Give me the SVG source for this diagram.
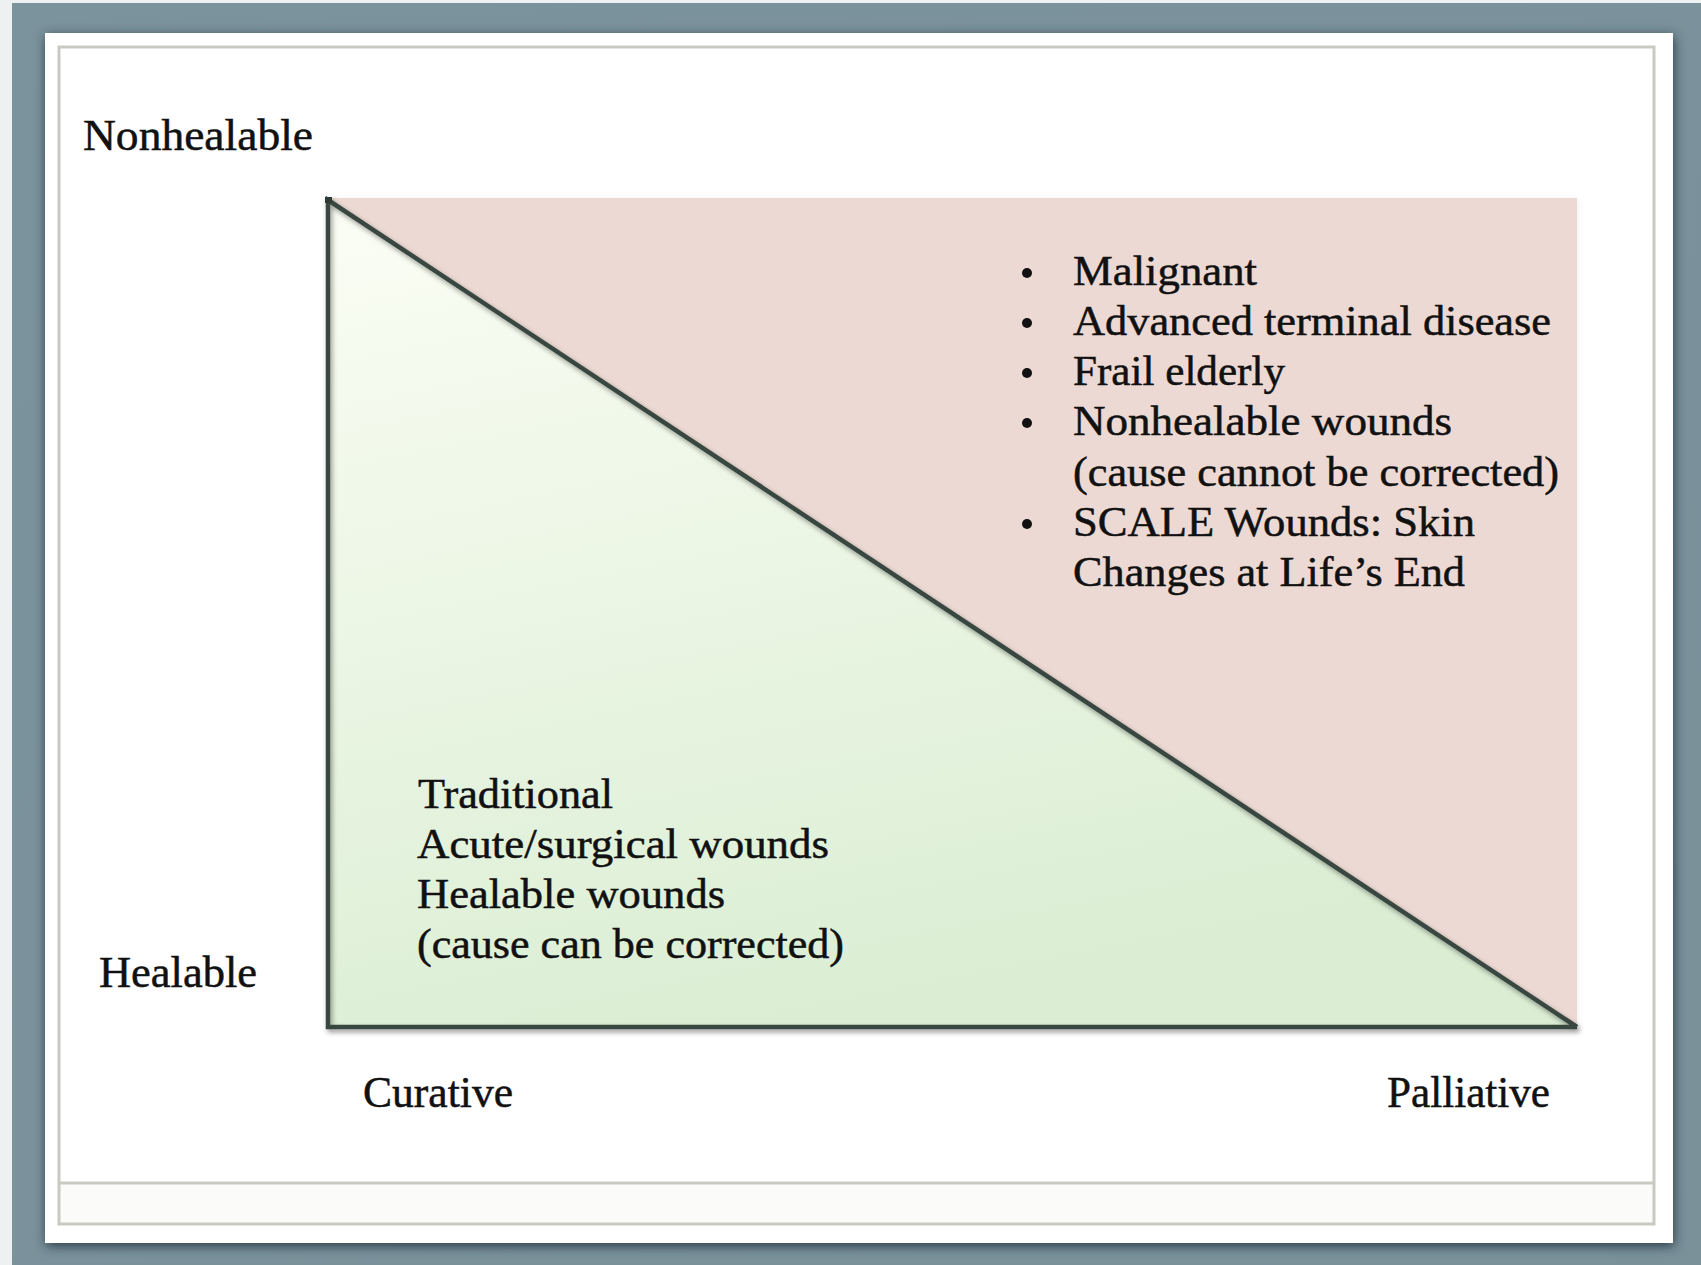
<svg xmlns="http://www.w3.org/2000/svg" width="1701" height="1265" viewBox="0 0 1701 1265">
  <defs>
    <linearGradient id="greenGrad" x1="0" y1="0" x2="0.3" y2="1">
      <stop offset="0" stop-color="#fbfdf4"/>
      <stop offset="0.5" stop-color="#ebf6e4"/>
      <stop offset="1" stop-color="#dbeed4"/>
    </linearGradient>
    <linearGradient id="frameGrad" x1="0" y1="0" x2="1" y2="1">
      <stop offset="0" stop-color="#7b939c"/>
      <stop offset="1" stop-color="#7a919a"/>
    </linearGradient>
    <filter id="cardShadow" x="-5%" y="-5%" width="110%" height="110%">
      <feGaussianBlur in="SourceAlpha" stdDeviation="6"/>
      <feOffset dx="1" dy="3" result="b"/>
      <feFlood flood-color="#243640" flood-opacity="0.95"/>
      <feComposite in2="b" operator="in"/>
      <feMerge><feMergeNode/><feMergeNode in="SourceGraphic"/></feMerge>
    </filter>
    <filter id="lineShadow" x="-5%" y="-5%" width="110%" height="110%">
      <feDropShadow dx="2" dy="3" stdDeviation="2.5" flood-color="#000" flood-opacity="0.4"/>
    </filter>
    <filter id="boxShadow" x="-5%" y="-5%" width="110%" height="110%">
      <feDropShadow dx="0" dy="2" stdDeviation="3" flood-color="#000" flood-opacity="0.08"/>
    </filter>
  </defs>
  <style>
    .lbl { font-family: "Liberation Serif", "Times New Roman", serif; font-size: 44px; fill: #111; stroke: #111; stroke-width: 0.5; }
    .txt { font-family: "Liberation Serif", "Times New Roman", serif; font-size: 42px; fill: #111; stroke: #111; stroke-width: 0.5; }
    .bul { fill: #111; }
    .rule { fill: none; stroke: #c9c9c1; stroke-width: 3; }
  </style>

  <!-- background & frame -->
  <rect x="0" y="0" width="1701" height="1265" fill="#eef1f1"/>
  <rect x="12" y="3" width="1689" height="1262" fill="url(#frameGrad)"/>
  <rect x="45" y="33" width="1628" height="1210" fill="#ffffff" filter="url(#cardShadow)"/>
  <rect x="59" y="1183" width="1595" height="41" fill="#fbfbf9"/>
  <rect class="rule" x="59" y="47" width="1595" height="1177"/>
  <line class="rule" x1="59" y1="1183" x2="1654" y2="1183"/>

  <!-- chart -->
  <g id="chart">
    <rect id="palliative-zone" x="328" y="198" width="1249" height="829" fill="#ecd9d3" filter="url(#boxShadow)"/>
    <polygon id="curative-zone" points="328,200 328,1027 1577,1027" fill="url(#greenGrad)"/>
    <g id="edges" filter="url(#lineShadow)">
      <polyline points="1577,1027 328,200 328,1027 1577,1027" fill="none" stroke="#394640" stroke-width="4.5" stroke-linejoin="miter"/>
      <rect x="325" y="197" width="7" height="6" fill="#2e3a36"/>
    </g>
  </g>

  <!-- axis labels -->
  <g id="axis-labels">
    <text class="lbl" x="83" y="150" textLength="230" lengthAdjust="spacingAndGlyphs">Nonhealable</text>
    <text class="lbl" x="99" y="987" textLength="158" lengthAdjust="spacingAndGlyphs">Healable</text>
    <text class="lbl" x="363" y="1107" textLength="150" lengthAdjust="spacingAndGlyphs">Curative</text>
    <text class="lbl" x="1387" y="1107" textLength="163" lengthAdjust="spacingAndGlyphs">Palliative</text>
  </g>

  <!-- palliative list -->
  <g id="palliative-list">
    <circle class="bul" cx="1027" cy="273" r="5"/>
    <circle class="bul" cx="1027" cy="323" r="5"/>
    <circle class="bul" cx="1027" cy="373" r="5"/>
    <circle class="bul" cx="1027" cy="423" r="5"/>
    <circle class="bul" cx="1027" cy="524" r="5"/>
    <text class="txt" x="1073" y="285" textLength="184" lengthAdjust="spacingAndGlyphs">Malignant</text>
    <text class="txt" x="1073" y="335" textLength="478" lengthAdjust="spacingAndGlyphs">Advanced terminal disease</text>
    <text class="txt" x="1073" y="385" textLength="212" lengthAdjust="spacingAndGlyphs">Frail elderly</text>
    <text class="txt" x="1073" y="435" textLength="379" lengthAdjust="spacingAndGlyphs">Nonhealable wounds</text>
    <text class="txt" x="1073" y="486" textLength="486" lengthAdjust="spacingAndGlyphs">(cause cannot be corrected)</text>
    <text class="txt" x="1073" y="536" textLength="402" lengthAdjust="spacingAndGlyphs">SCALE Wounds: Skin</text>
    <text class="txt" x="1073" y="586" textLength="392" lengthAdjust="spacingAndGlyphs">Changes at Life’s End</text>
  </g>

  <!-- curative list -->
  <g id="curative-list">
    <text class="txt" x="418" y="808" textLength="195" lengthAdjust="spacingAndGlyphs">Traditional</text>
    <text class="txt" x="417" y="858" textLength="412" lengthAdjust="spacingAndGlyphs">Acute/surgical wounds</text>
    <text class="txt" x="417" y="908" textLength="308" lengthAdjust="spacingAndGlyphs">Healable wounds</text>
    <text class="txt" x="417" y="958" textLength="427" lengthAdjust="spacingAndGlyphs">(cause can be corrected)</text>
  </g>
</svg>
